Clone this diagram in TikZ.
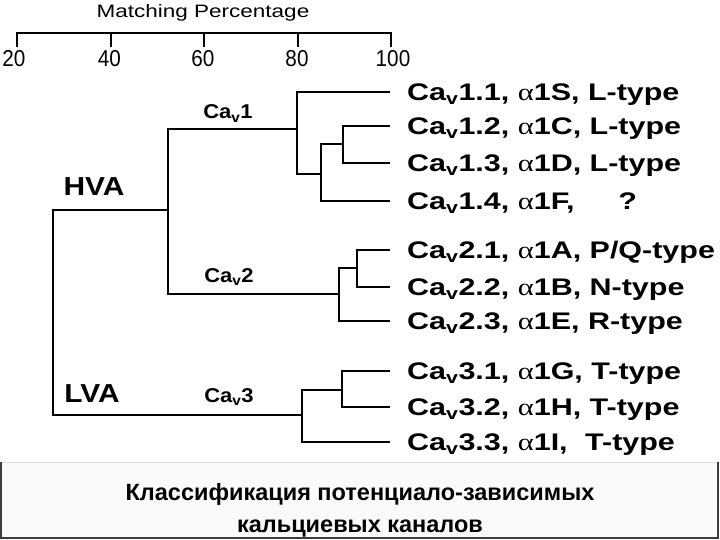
\documentclass[tikz,border=0pt]{standalone}
\usepackage{fontspec}
\setmainfont{Liberation Sans}
\newfontfamily\leaffont{Liberation Sans}[FakeStretch=1.27]
\newfontfamily\titlefont{Liberation Sans}[FakeStretch=1.25]
\newfontfamily\alphafont{Liberation Serif}[FakeStretch=1.27]
\newfontfamily\tickfont{Liberation Sans}[FakeStretch=0.9]
\newfontfamily\groupfont{Liberation Sans}[FakeStretch=1.1]
\newfontfamily\voltfont{Liberation Sans}[FakeStretch=1.15]
\newcommand{\cav}{Ca\textsubscript{v}}
\newcommand{\alf}{{\alphafont\mdseries α}}
\definecolor{frame}{HTML}{3C3C3C}

\tikzset{
  branch/.style={line width=2.2pt},
  axisline/.style={line width=2pt},
  ticklabel/.style={anchor=base, inner sep=0pt, font=\tickfont\fontsize{23}{26}\selectfont},
  leaf/.style={anchor=west, inner xsep=17pt, inner ysep=0pt, text height=17pt, text depth=0pt,
    font=\leaffont\bfseries\fontsize{24}{26}\selectfont},
  family/.style={anchor=base, inner sep=0pt, font=\groupfont\bfseries\fontsize{20}{24}\selectfont},
  voltage/.style={anchor=base, inner sep=0pt, font=\voltfont\bfseries\fontsize{26}{30}\selectfont},
  captionline/.style={anchor=base, inner sep=0pt, font=\bfseries\fontsize{23.5}{28}\selectfont},
}

\begin{document}
\begin{tikzpicture}[x=1pt, y=-1pt]
\useasboundingbox (0,0) rectangle (720,540);
% percentage scale
\node[anchor=base, inner sep=0pt, font=\titlefont\fontsize{18}{22}\selectfont] (scaletitle) at (203,18) {Matching Percentage};
\draw[axisline] (17,47) -- (17,33) -- (391,33) -- (391,47);
\draw[axisline] (110.5,33) -- (110.5,47);
\draw[axisline] (204,33) -- (204,47);
\draw[axisline] (297.5,33) -- (297.5,47);
\node[ticklabel] (t20) at (14,67) {20};
\node[ticklabel] (t40) at (109.5,67) {40};
\node[ticklabel] (t60) at (203,67) {60};
\node[ticklabel] (t80) at (297,67) {80};
\node[ticklabel] (t100) at (393,67) {100};

% branch points
\coordinate (root) at (53,312);
\coordinate (hva) at (168,210);
\coordinate (lva) at (302,415);
\coordinate (cav1) at (297,129);
\coordinate (cav2) at (339,294);
\coordinate (n1a) at (321,174);
\coordinate (n1b) at (343,144);
\coordinate (n2a) at (357,268);
\coordinate (n3a) at (342,390);

% channels
\node[leaf] (l11) at (390,92) {\cav1.1, \alf1S, L-type};
\node[leaf] (l12) at (390,126) {\cav1.2, \alf1C, L-type};
\node[leaf] (l13) at (390,163) {\cav1.3, \alf1D, L-type};
\node[leaf] (l14) at (390,201) {\cav1.4, \alf1F,\hspace{44pt}?};
\node[leaf] (l21) at (390,250) {\cav2.1, \alf1A, P/Q-type};
\node[leaf] (l22) at (390,287) {\cav2.2, \alf1B, N-type};
\node[leaf] (l23) at (390,321) {\cav2.3, \alf1E, R-type};
\node[leaf] (l31) at (390,371) {\cav3.1, \alf1G, T-type};
\node[leaf] (l32) at (390,407) {\cav3.2, \alf1H, T-type};
\node[leaf] (l33) at (390,442) {\cav3.3, \alf1I,\hspace{9pt} T-type};

% tree
\draw[branch] (root) |- (hva);
\draw[branch] (root) |- (lva);
\draw[branch] (hva) |- (cav1);
\draw[branch] (hva) |- (cav2);
\draw[branch] (cav1) |- (l11);
\draw[branch] (cav1) |- (n1a);
\draw[branch] (n1a) |- (n1b);
\draw[branch] (n1a) |- (l14);
\draw[branch] (n1b) |- (l12);
\draw[branch] (n1b) |- (l13);
\draw[branch] (cav2) |- (n2a);
\draw[branch] (cav2) |- (l23);
\draw[branch] (n2a) |- (l21);
\draw[branch] (n2a) |- (l22);
\draw[branch] (lva) |- (n3a);
\draw[branch] (lva) |- (l33);
\draw[branch] (n3a) |- (l31);
\draw[branch] (n3a) |- (l32);

\node[voltage] (hvalabel) at (94,196) {HVA};
\node[voltage] (lvalabel) at (92,402) {LVA};
\node[family] (cav1label) at (228,119) {\cav1};
\node[family] (cav2label) at (229,282) {\cav2};
\node[family] (cav3label) at (229,402) {\cav3};

% caption box
\fill[gray!4] (1,462) rectangle (718,538);
\draw[gray!25, line width=1pt] (1,462) -- (718,462);
\draw[frame, line width=2pt] (1,462) -- (1,538) -- (718,538) -- (718,462);
\node[captionline] (caption1) at (360,500.5) {Классификация потенциало-зависимых};
\node[captionline] (caption2) at (360,532.5) {кальциевых каналов};
\end{tikzpicture}
\end{document}
